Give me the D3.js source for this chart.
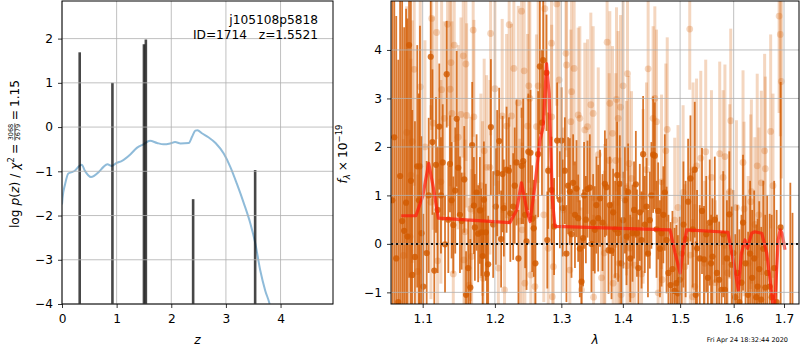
<!DOCTYPE html>
<html>
<head>
<meta charset="utf-8">
<script src="https://cdn.jsdelivr.net/npm/d3@7"></script>
<style>
  body { margin: 0; background: #fff; }
  svg { display: block; font-family: "DejaVu Sans", sans-serif; }
</style>
</head>
<body>
<div id="chart"></div>
<script>
// log p(z) curve
const pzZ = [0.0, 0.01, 0.055, 0.116, 0.178, 0.24, 0.30, 0.36, 0.42, 0.53, 0.67, 0.76, 0.83, 0.91, 1.0, 1.09, 1.25, 1.37, 1.49, 1.61, 1.74, 1.86, 1.98, 2.07, 2.17, 2.32, 2.38, 2.44, 2.48, 2.56, 2.68, 2.81, 2.96, 3.08, 3.20, 3.33, 3.45, 3.54, 3.63, 3.72, 3.80, 3.85];
const pzLog = [-1.75, -1.6, -1.3, -1.05, -1.02, -0.98, -0.90, -0.85, -0.99, -1.13, -1.02, -0.90, -0.84, -0.88, -0.81, -0.77, -0.62, -0.47, -0.39, -0.31, -0.36, -0.39, -0.37, -0.34, -0.37, -0.36, -0.22, -0.08, -0.07, -0.14, -0.23, -0.36, -0.60, -0.90, -1.28, -1.73, -2.19, -2.64, -3.25, -3.70, -4.0, -4.3];

// chi2 spikes
const spikeZ = [0.324, 0.923, 1.50, 1.535, 2.40, 3.535];
const spikeTop = [1.69, 1.0, 1.87, 1.98, -1.63, -0.97];

// model spectrum
const modelWave = [1.072, 1.091, 1.100, 1.108, 1.114, 1.121, 1.222, 1.232, 1.239, 1.247, 1.252, 1.259, 1.267, 1.272, 1.277, 1.281, 1.286, 1.290, 1.482, 1.491, 1.500, 1.506, 1.512, 1.589, 1.599, 1.609, 1.615, 1.622, 1.627, 1.635, 1.641, 1.655, 1.665, 1.675, 1.679, 1.683, 1.688, 1.692, 1.696, 1.702];
const modelFlux = [0.58, 0.58, 0.98, 1.66, 1.18, 0.53, 0.44, 0.70, 1.26, 0.70, 0.46, 1.18, 2.14, 2.42, 3.72, 3.1, 0.91, 0.36, 0.29, -0.19, -0.6, -0.06, 0.29, 0.24, -0.33, -0.95, -0.19, 0.08, -0.09, 0.22, 0.25, 0.22, -0.19, -1.02, -1.4, -0.95, 0.08, 0.29, 0.22, -0.12];

// [wavelength, flux, error]
const darkSpec = [
  [1.0605, 0.9, 5.0], [1.0630, 2.2, 4.5], [1.0655, -0.3, 5.0], [1.0681, -1.2, 5.0], [1.0705, 1.4, 4.5],
  [1.0731, 0.47, 4.6], [1.0757, 0.27, 4.2], [1.0782, 0.85, 4.0], [1.0800, 0.15, 4.5], [1.0821, 4.10, 4.8],
  [1.0845, 1.30, 3.8], [1.0863, -0.64, 3.4], [1.0898, -0.27, 2.8], [1.0928, 1.60, 2.5], [1.0950, 0.90, 2.2],
  [1.0964, 1.60, 2.9], [1.0985, 0.22, 2.0], [1.1008, -0.88, 1.5], [1.1053, -0.19, 1.9], [1.1080, 1.00, 1.6],
  [1.1107, 3.86, 1.3], [1.1130, 2.10, 1.5], [1.1155, -0.55, 1.2], [1.1178, 1.63, 1.4], [1.1200, 0.70, 1.3],
  [1.1222, 2.42, 1.3], [1.1245, 1.00, 1.2], [1.1269, 1.68, 1.2], [1.1300, -0.01, 1.0], [1.1323, 3.50, 1.1],
  [1.1345, 0.50, 1.1], [1.1368, 1.65, 1.0], [1.1390, 0.90, 1.2], [1.1413, 0.39, 1.0], [1.1440, 1.10, 1.3],
  [1.1460, 2.58, 1.4], [1.1482, 1.57, 1.0], [1.1505, 0.60, 1.2], [1.1529, 0.47, 1.0], [1.1565, 1.33, 1.1],
  [1.1590, -1.05, 0.9], [1.1620, -0.50, 1.0], [1.1650, -0.90, 1.0], [1.1676, 2.04, 1.3], [1.1700, 0.79, 1.0],
  [1.1714, 0.34, 1.1], [1.1738, 1.06, 1.2], [1.1760, 0.21, 1.0], [1.1785, 0.69, 1.1], [1.1805, 0.24, 0.9],
  [1.1825, -0.25, 1.0], [1.1842, 0.91, 1.2], [1.1870, 0.24, 1.0], [1.1885, -0.62, 1.1], [1.1903, -0.42, 1.0],
  [1.1942, 2.41, 1.4], [1.1975, 0.40, 1.1], [1.2014, 0.77, 1.2], [1.2033, 1.46, 1.3], [1.2062, 2.12, 1.1],
  [1.2090, 0.10, 1.0], [1.2111, 1.44, 1.2], [1.2130, 0.74, 1.0], [1.2170, 1.53, 1.3], [1.2204, 1.51, 1.1],
  [1.2225, 0.63, 1.0], [1.2267, 0.77, 1.1], [1.2290, 1.20, 1.2], [1.2317, 1.68, 1.3], [1.2345, -0.30, 1.0],
  [1.2392, 1.61, 1.2], [1.2416, 1.71, 1.3], [1.2445, 0.60, 1.1], [1.2466, 0.05, 1.0], [1.2493, 1.90, 1.2],
  [1.2526, 1.88, 1.3], [1.2551, 0.52, 1.1], [1.2575, 0.32, 1.0], [1.2600, -0.40, 1.0], [1.2642, 1.85, 1.3],
  [1.2668, 3.66, 1.4], [1.2700, 2.50, 1.5], [1.2718, 3.79, 1.3], [1.2770, 3.53, 1.2], [1.2782, 0.08, 1.0],
  [1.2796, 1.51, 1.2], [1.2847, 1.11, 1.1], [1.2887, 0.36, 1.0], [1.2934, 2.13, 1.2], [1.2977, 0.91, 1.0],
  [1.3004, 2.13, 1.1], [1.3020, 0.74, 1.0], [1.3055, 1.51, 1.1], [1.3080, -0.20, 1.0], [1.3107, 1.20, 1.0],
  [1.3134, 1.08, 1.1], [1.3160, 0.20, 0.9], [1.3186, 1.26, 1.0], [1.3215, 0.60, 1.1], [1.3240, 1.14, 1.0],
  [1.3266, 0.53, 0.9], [1.3293, -0.10, 1.0], [1.3320, -0.78, 0.9], [1.3345, 0.12, 1.0], [1.3361, 1.00, 1.1],
  [1.3390, 0.50, 0.9], [1.3416, 1.13, 1.0], [1.3454, 1.16, 1.1], [1.3480, 0.00, 1.0], [1.3508, 0.44, 1.0],
  [1.3535, 0.29, 0.9], [1.3560, 0.80, 1.0], [1.3590, 0.53, 1.1], [1.3620, 0.94, 1.0], [1.3661, 0.44, 1.0],
  [1.3700, 1.24, 1.1], [1.3727, 1.17, 1.0], [1.3760, -0.13, 0.9], [1.3782, 0.80, 1.0], [1.3810, -0.14, 1.0],
  [1.3837, 0.65, 0.9], [1.3870, 0.30, 1.0], [1.3904, 1.42, 1.1], [1.3921, 0.22, 1.0], [1.3949, 1.24, 1.0],
  [1.3975, -0.40, 0.9], [1.4004, 0.49, 1.0], [1.4035, 0.90, 1.1], [1.4062, 0.15, 1.0], [1.4090, 1.07, 1.0],
  [1.4125, -0.30, 0.9], [1.4164, 0.22, 1.0], [1.4190, 0.70, 1.0], [1.4221, 1.23, 1.1], [1.4240, 0.22, 0.9],
  [1.4265, -0.50, 1.0], [1.4289, 0.65, 1.0], [1.4319, 0.08, 1.0], [1.4346, 1.85, 1.2], [1.4375, 0.40, 1.0],
  [1.4405, 0.77, 1.0], [1.4430, -0.20, 0.9], [1.4462, 0.49, 1.0], [1.4490, 1.00, 1.1], [1.4520, 1.84, 1.2],
  [1.4550, 1.82, 1.1], [1.4580, 0.30, 1.0], [1.4608, 0.68, 1.0], [1.4640, -0.10, 1.0], [1.4668, 0.22, 1.1],
  [1.4700, 0.60, 1.0], [1.4726, 1.06, 1.2], [1.4757, 0.08, 1.1], [1.4790, -0.60, 1.2], [1.4830, -0.85, 1.3],
  [1.4862, -0.52, 1.2], [1.4900, -0.97, 1.3], [1.4934, -0.81, 1.2], [1.4960, -1.02, 1.2], [1.4994, -0.74, 1.3],
  [1.5030, -0.20, 1.2], [1.5060, 0.40, 1.3], [1.5100, 0.10, 1.2], [1.5145, 0.87, 1.3], [1.5188, 1.35, 1.3],
  [1.5230, 0.30, 1.2], [1.5267, 1.53, 1.4], [1.5285, -1.05, 1.1], [1.5309, -0.09, 1.2], [1.5359, -0.30, 1.1],
  [1.5401, 0.68, 1.3], [1.5438, -0.32, 1.1], [1.5480, 0.20, 1.2], [1.5510, -0.70, 1.1], [1.5545, 0.44, 1.3],
  [1.5570, -0.40, 1.0], [1.5596, -0.26, 1.2], [1.5640, 0.50, 1.3], [1.5680, -0.60, 1.2], [1.5722, -0.74, 1.2],
  [1.5768, -0.95, 1.2], [1.5800, 0.20, 1.3], [1.5832, -0.95, 1.2], [1.5870, -0.30, 1.2], [1.5916, 0.61, 1.3],
  [1.5962, -0.43, 1.2], [1.5994, -0.19, 1.3], [1.6030, -1.10, 1.3], [1.6070, -0.60, 1.4], [1.6110, -1.20, 1.5],
  [1.6150, -0.80, 1.4], [1.6181, 0.44, 1.4], [1.6230, -0.40, 1.4], [1.6280, -1.05, 1.3], [1.6320, -0.20, 1.5],
  [1.6360, -0.70, 1.4], [1.6400, -0.30, 1.4], [1.6440, -1.10, 1.5], [1.6468, -0.88, 1.4], [1.6500, -0.52, 1.4],
  [1.6540, -1.15, 1.5], [1.6580, -0.10, 1.4], [1.6620, -0.90, 1.5], [1.6660, -0.60, 1.6], [1.6709, -0.88, 1.5],
  [1.6750, -1.10, 1.7], [1.6800, -0.50, 1.8], [1.6850, -1.20, 1.9], [1.6932, 0.34, 3.0], [1.7130, -1.60, 2.86],
  [1.7175, -1.80, 2.44]
];

const lightSpec = [
  [1.0747, -0.24, 2.4], [1.0790, 2.30, 2.6], [1.0833, 0.15, 2.2], [1.0845, 1.42, 2.4], [1.0863, 2.11, 2.5],
  [1.0888, 3.60, 2.4], [1.0934, -0.57, 2.0], [1.0968, 3.24, 2.3], [1.1030, 2.00, 2.2], [1.1110, 0.86, 2.0],
  [1.1120, 4.65, 2.3], [1.1140, 2.49, 2.2], [1.1186, 4.36, 2.2], [1.1200, -0.35, 2.0], [1.1244, 1.28, 2.1],
  [1.1254, 3.18, 2.2], [1.1290, 2.59, 2.0], [1.1335, 4.53, 2.1], [1.1371, 3.19, 2.0], [1.1381, 3.74, 2.1],
  [1.1395, 2.69, 1.9], [1.1413, -0.62, 1.8], [1.1426, 4.10, 2.0], [1.1480, 2.20, 1.9], [1.1519, 2.67, 2.0],
  [1.1551, 3.88, 2.1], [1.1560, -0.33, 1.8], [1.1575, 0.25, 1.9], [1.1588, 3.71, 2.0], [1.1598, 2.65, 1.9],
  [1.1634, -0.85, 1.8], [1.1654, 0.72, 1.9], [1.1668, -0.26, 1.8], [1.1690, 4.41, 2.2], [1.1700, 2.62, 2.0],
  [1.1799, 1.20, 1.9], [1.1823, 0.73, 1.8], [1.1830, -0.71, 1.7], [1.1846, 1.92, 1.9], [1.1880, 1.58, 1.9],
  [1.1928, 1.58, 1.8], [1.1938, 4.34, 2.1], [1.2000, 3.20, 2.0], [1.2050, -0.50, 1.8], [1.2106, 2.64, 2.0],
  [1.2140, -0.95, 1.8], [1.2170, 2.43, 1.9], [1.2208, 4.52, 2.1], [1.2242, 2.64, 1.9], [1.2277, 3.62, 2.0],
  [1.2343, 2.91, 2.0], [1.2366, 0.47, 1.7], [1.2392, 4.80, 2.2], [1.2400, 0.29, 1.8], [1.2430, 3.57, 2.0],
  [1.2441, -0.81, 1.7], [1.2481, 2.43, 1.9], [1.2500, 3.26, 2.0], [1.2516, 3.00, 2.0], [1.2531, -0.64, 1.8],
  [1.2593, -0.88, 1.8], [1.2616, 2.42, 1.9], [1.2642, 3.26, 2.0], [1.2728, 0.60, 1.8], [1.2744, 4.85, 2.2],
  [1.2796, -0.09, 1.7], [1.2847, 4.14, 2.0], [1.2850, 2.62, 1.9], [1.2860, -1.09, 1.7], [1.2876, -0.47, 1.8],
  [1.2928, 4.95, 2.1], [1.2966, 3.38, 2.0], [1.3029, 0.70, 1.7], [1.3072, 3.93, 2.0], [1.3082, 3.69, 1.9],
  [1.3134, -0.54, 1.7], [1.3150, 2.52, 1.9], [1.3161, 3.14, 1.9], [1.3202, 3.62, 2.0], [1.3266, 2.66, 1.8],
  [1.3293, 2.59, 1.9], [1.3320, -0.95, 1.7], [1.3373, 2.35, 1.8], [1.3416, 2.42, 1.8], [1.3470, 2.87, 1.9],
  [1.3508, 2.69, 1.8], [1.3515, -1.10, 1.7], [1.3591, 1.84, 1.8], [1.3645, -0.70, 1.7], [1.3690, -0.19, 1.7],
  [1.3699, 0.36, 1.7], [1.3737, 4.16, 2.0], [1.3771, 1.72, 1.8], [1.3782, 2.90, 1.9], [1.3827, 2.28, 1.8],
  [1.3837, -0.81, 1.7], [1.3882, 1.72, 1.8], [1.3890, -0.67, 1.7], [1.3893, 2.98, 1.9], [1.3921, 2.59, 1.8],
  [1.3937, -0.40, 1.7], [1.3949, 0.08, 1.7], [1.3961, 2.82, 1.9], [1.3970, -1.05, 1.6], [1.4004, 3.26, 1.9],
  [1.4062, 1.15, 1.8], [1.4070, -0.45, 1.7], [1.4079, 3.51, 2.0], [1.4106, 1.66, 1.8], [1.4118, -0.09, 1.7],
  [1.4147, 1.35, 1.8], [1.4157, -1.05, 1.6], [1.4203, -0.44, 1.7], [1.4319, -0.62, 1.7], [1.4346, 0.98, 1.8],
  [1.4405, 1.53, 1.8], [1.4433, 3.61, 2.0], [1.4520, 2.59, 1.9], [1.4550, 3.00, 1.9], [1.4579, 2.52, 1.9],
  [1.4608, -1.01, 1.6], [1.4668, 1.28, 1.8], [1.4680, -0.74, 1.7], [1.4744, 1.92, 1.8], [1.4769, 2.36, 1.9],
  [1.4903, 0.49, 1.7], [1.4962, 0.75, 1.7], [1.5054, 1.06, 1.8], [1.5086, -0.47, 1.7], [1.5175, 4.43, 1.25],
  [1.5185, -0.23, 1.7], [1.5226, -1.09, 1.6], [1.5236, 1.53, 1.8], [1.5267, -0.88, 1.7], [1.5300, 1.61, 1.8],
  [1.5378, 1.77, 1.8], [1.5452, -0.40, 1.7], [1.5470, 1.90, 1.9], [1.5577, 1.37, 1.8], [1.5650, -0.80, 1.7],
  [1.5733, 1.86, 1.9], [1.5797, 1.37, 1.8], [1.5832, 1.80, 1.9], [1.5880, -0.60, 1.7], [1.5924, 1.08, 1.8],
  [1.5943, 2.54, 1.9], [1.6053, 0.75, 1.8], [1.6181, 1.68, 1.9], [1.6201, 0.72, 1.8], [1.6280, -0.40, 1.8],
  [1.6331, 0.87, 1.8], [1.6345, 1.08, 1.9], [1.6413, 0.40, 1.8], [1.6460, 1.61, 1.9], [1.6493, 0.60, 1.8],
  [1.6542, 1.26, 1.9], [1.6608, 1.92, 2.0], [1.6622, 1.55, 1.9], [1.6729, 2.32, 2.0], [1.6776, 1.20, 1.9],
  [1.6900, 4.70, 2.0], [1.6925, 4.32, 2.1], [1.6946, 3.35, 2.0]
];

const zTicks = [0, 1, 2, 3, 4];
const pTicks = [-4, -3, -2, -1, 0, 1, 2];
const waveTicks = [1.1, 1.2, 1.3, 1.4, 1.5, 1.6, 1.7];
const fluxTicks = [-1, 0, 1, 2, 3, 4];

const W = 800, H = 350;
const FS = 12.2;
const gridColor = "#b0b0b0";
const specColor = "#d25a00";

const svg = d3.select("#chart").append("svg")
  .attr("width", W)
  .attr("height", H);

const defs = svg.append("defs");

// ---------- left panel: p(z) ----------
const lp = {left: 62, right: 333, top: 1, bottom: 304};
const xZ = d3.scaleLinear().domain([0, 4.96]).range([lp.left, lp.right]);
const yP = d3.scaleLinear().domain([-4, 2.85]).range([lp.bottom, lp.top]);

defs.append("clipPath").attr("id", "clip-left")
  .append("rect")
  .attr("x", lp.left).attr("y", lp.top)
  .attr("width", lp.right - lp.left).attr("height", lp.bottom - lp.top);

const leftG = svg.append("g");
const leftPlot = leftG.append("g").attr("clip-path", "url(#clip-left)");

leftPlot.append("path")
  .datum(d3.zip(pzZ, pzLog))
  .attr("fill", "none")
  .attr("stroke", "#1f77b4")
  .attr("stroke-opacity", 0.5)
  .attr("stroke-width", 2)
  .attr("d", d3.line().x(d => xZ(d[0])).y(d => yP(d[1])).curve(d3.curveMonotoneX));

leftPlot.selectAll("line.spike")
  .data(d3.zip(spikeZ, spikeTop))
  .join("line")
  .attr("class", "spike")
  .attr("x1", d => xZ(d[0])).attr("x2", d => xZ(d[0]))
  .attr("y1", yP(-4)).attr("y2", d => yP(d[1]))
  .attr("stroke", "#000")
  .attr("stroke-opacity", 0.72)
  .attr("stroke-width", 2.6);

// grid
leftG.append("g").selectAll("line")
  .data(zTicks).join("line")
  .attr("x1", d => xZ(d)).attr("x2", d => xZ(d))
  .attr("y1", lp.top).attr("y2", lp.bottom)
  .attr("stroke", gridColor).attr("stroke-width", 0.8);
leftG.append("g").selectAll("line")
  .data(pTicks).join("line")
  .attr("x1", lp.left).attr("x2", lp.right)
  .attr("y1", d => yP(d)).attr("y2", d => yP(d))
  .attr("stroke", gridColor).attr("stroke-width", 0.8);

function styleAxis(g) {
  g.select(".domain").remove();
  g.selectAll(".tick line").attr("stroke", "#000").attr("stroke-width", 0.8);
  g.selectAll(".tick text").attr("fill", "#000").style("font-size", FS + "px")
    .style("font-family", "'DejaVu Sans', sans-serif");
}

leftG.append("g")
  .attr("transform", `translate(0,${lp.bottom})`)
  .call(d3.axisBottom(xZ).tickValues(zTicks).tickFormat(d3.format("d")).tickSize(4).tickPadding(6))
  .call(styleAxis);
leftG.append("g")
  .attr("transform", `translate(${lp.left},0)`)
  .call(d3.axisLeft(yP).tickValues(pTicks).tickFormat(d3.format("d")).tickSize(4).tickPadding(5))
  .call(styleAxis);

leftG.append("rect")
  .attr("x", lp.left).attr("y", lp.top)
  .attr("width", lp.right - lp.left).attr("height", lp.bottom - lp.top)
  .attr("fill", "none").attr("stroke", "#000").attr("stroke-width", 1);

leftG.append("text")
  .attr("x", 318).attr("y", 24)
  .attr("text-anchor", "end")
  .style("font-size", FS + "px")
  .text("j105108p5818");
leftG.append("text")
  .attr("x", 318).attr("y", 39)
  .attr("text-anchor", "end")
  .style("font-size", FS + "px")
  .style("white-space", "pre")
  .text("ID=1714   z=1.5521");

leftG.append("text")
  .attr("x", (lp.left + lp.right) / 2).attr("y", 344)
  .attr("text-anchor", "middle")
  .style("font-size", FS + "px")
  .style("font-style", "italic")
  .text("z");

// rotated mathtext-like label, pieces laid out one after another
function mathLabel(cx, cy, parts) {
  const outer = svg.append("g").attr("transform", `translate(${cx},${cy}) rotate(-90)`);
  const g = outer.append("g");
  let x = 0;
  parts.forEach(p => {
    if (p.gap) { x += p.gap; return; }
    if (p.frac) {
      const fs = p.size;
      const num = g.append("text").attr("y", p.numY).style("font-size", fs + "px").attr("text-anchor", "middle").text(p.frac[0]);
      const den = g.append("text").attr("y", p.denY).style("font-size", fs + "px").attr("text-anchor", "middle").text(p.frac[1]);
      const w = Math.max(num.node().getComputedTextLength(), den.node().getComputedTextLength()) + 1;
      num.attr("x", x + w / 2);
      den.attr("x", x + w / 2);
      g.append("line").attr("x1", x).attr("x2", x + w)
        .attr("y1", p.barY).attr("y2", p.barY)
        .attr("stroke", "#000").attr("stroke-width", 0.6);
      x += w;
      return;
    }
    const t = g.append("text")
      .attr("x", x).attr("y", p.dy || 0)
      .style("font-size", (p.size || FS) + "px")
      .style("font-style", p.italic ? "italic" : "normal")
      .text(p.t);
    x += t.node().getComputedTextLength();
  });
  g.attr("transform", `translate(${-x / 2},0)`);
}

mathLabel(19, 154, [
  {t: "log"}, {gap: 4}, {t: "p", italic: true}, {t: "("}, {t: "z", italic: true}, {t: ")"},
  {gap: 4}, {t: "/"}, {gap: 4}, {t: "χ", italic: true}, {t: "2", size: 8.5, dy: -5},
  {gap: 3}, {t: "="}, {gap: 3},
  {frac: ["3068", "2679"], size: 6.5, numY: -5.6, denY: 1.2, barY: -4.2},
  {gap: 3}, {t: "="}, {gap: 3}, {t: "1.15"}
]);

// ---------- right panel: spectrum ----------
const rp = {left: 391, right: 799, top: 1, bottom: 304};
const xW = d3.scaleLog().domain([1.0588, 1.731]).range([rp.left, rp.right]);
const yF = d3.scaleLinear().domain([-1.24, 5.01]).range([rp.bottom, rp.top]);

defs.append("clipPath").attr("id", "clip-right")
  .append("rect")
  .attr("x", rp.left).attr("y", rp.top)
  .attr("width", rp.right - rp.left).attr("height", rp.bottom - rp.top);

const rightG = svg.append("g");
const rightPlot = rightG.append("g").attr("clip-path", "url(#clip-right)");

function drawSpec(data, opacity, barWidth, radius) {
  const g = rightPlot.append("g");
  g.selectAll("line")
    .data(data).join("line")
    .attr("x1", d => xW(d[0])).attr("x2", d => xW(d[0]))
    .attr("y1", d => yF(d[1] - d[2])).attr("y2", d => yF(d[1] + d[2]))
    .attr("stroke", specColor)
    .attr("stroke-opacity", opacity)
    .attr("stroke-width", barWidth);
  g.selectAll("circle")
    .data(data).join("circle")
    .attr("cx", d => xW(d[0])).attr("cy", d => yF(d[1]))
    .attr("r", radius)
    .attr("fill", specColor)
    .attr("fill-opacity", opacity);
}

drawSpec(lightSpec, 0.25, 3, 3.4);
drawSpec(darkSpec, 0.82, 1.8, 3.1);

// grid on top of the points
rightG.append("g").selectAll("line")
  .data(waveTicks).join("line")
  .attr("x1", d => xW(d)).attr("x2", d => xW(d))
  .attr("y1", rp.top).attr("y2", rp.bottom)
  .attr("stroke", gridColor).attr("stroke-width", 0.8);
rightG.append("g").selectAll("line")
  .data(fluxTicks).join("line")
  .attr("x1", rp.left).attr("x2", rp.right)
  .attr("y1", d => yF(d)).attr("y2", d => yF(d))
  .attr("stroke", gridColor).attr("stroke-width", 0.8);

rightPlot.append("path")
  .datum(d3.zip(modelWave, modelFlux))
  .attr("fill", "none")
  .attr("stroke", "#ff1a0a")
  .attr("stroke-opacity", 0.72)
  .attr("stroke-width", 3.2)
  .attr("stroke-linejoin", "round")
  .attr("d", d3.line().x(d => xW(d[0])).y(d => yF(d[1])));

rightG.append("line")
  .attr("x1", rp.left).attr("x2", rp.right)
  .attr("y1", yF(0)).attr("y2", yF(0))
  .attr("stroke", "#111")
  .attr("stroke-width", 2)
  .attr("stroke-dasharray", "2,3");

rightG.append("g")
  .attr("transform", `translate(0,${rp.bottom})`)
  .call(d3.axisBottom(xW).tickValues(waveTicks).tickFormat(d3.format(".1f")).tickSize(4).tickPadding(6))
  .call(styleAxis);
rightG.append("g")
  .attr("transform", `translate(${rp.left},0)`)
  .call(d3.axisLeft(yF).tickValues(fluxTicks).tickFormat(d3.format("d")).tickSize(4).tickPadding(5))
  .call(styleAxis);

rightG.append("rect")
  .attr("x", rp.left).attr("y", rp.top)
  .attr("width", rp.right - rp.left).attr("height", rp.bottom - rp.top)
  .attr("fill", "none").attr("stroke", "#000").attr("stroke-width", 1);

rightG.append("text")
  .attr("x", (rp.left + rp.right) / 2).attr("y", 344)
  .attr("text-anchor", "middle")
  .style("font-size", FS + "px")
  .style("font-style", "italic")
  .text("λ");

mathLabel(347, 154, [
  {t: "f", italic: true}, {t: "λ", italic: true, size: 8.5, dy: 3},
  {gap: 3}, {t: "×"}, {gap: 3}, {t: "10"}, {t: "−19", size: 8.5, dy: -5}
]);

svg.append("text")
  .attr("x", 788).attr("y", 342)
  .attr("text-anchor", "end")
  .style("font-size", "6.5px")
  .text("Fri Apr 24 18:32:44 2020");
</script>
</body>
</html>
